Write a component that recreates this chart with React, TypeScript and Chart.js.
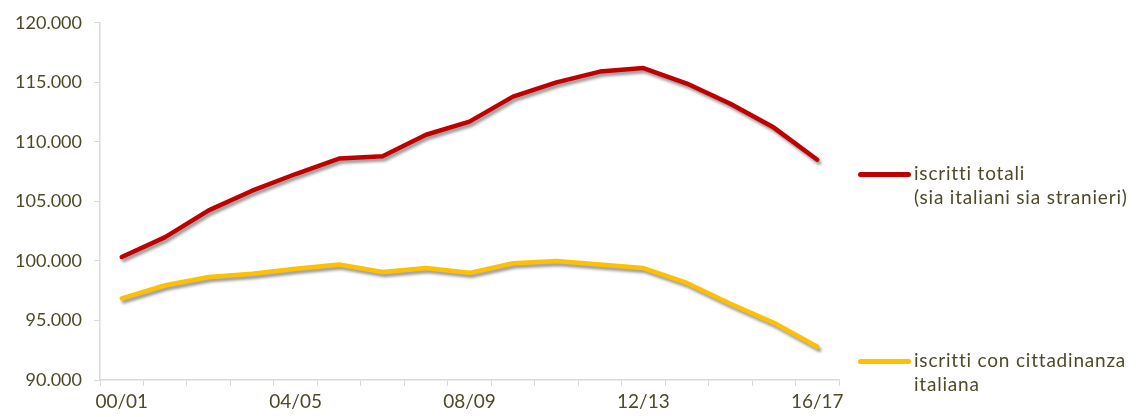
import React, { useEffect, useRef } from "react";
import { Chart, registerables } from "chart.js";

Chart.register(...registerables);

const categories = [
  "00/01", "01/02", "02/03", "03/04", "04/05", "05/06", "06/07", "07/08", "08/09",
  "09/10", "10/11", "11/12", "12/13", "13/14", "14/15", "15/16", "16/17",
];
const iscrittiTotali = [
  100330, 102000, 104250, 105900, 107300, 108600, 108800, 110600, 111700,
  113800, 115000, 115900, 116200, 114900, 113200, 111200, 108500,
];
const iscrittiItaliani = [
  96850, 97960, 98650, 98930, 99350, 99700, 99070, 99400, 99000,
  99800, 100000, 99700, 99400, 98150, 96400, 94800, 92800,
];
const shownLabels = ["00/01", "04/05", "08/09", "12/13", "16/17"];
const legendTotali = ["iscritti totali", "(sia italiani sia stranieri)"];
const legendItaliani = ["iscritti con cittadinanza", "italiana"];

const RED = "#C00000";
const YELLOW = "#FFC000";
const TEXT = "#4E4A29";
const AXIS = "#D9D9D9";
const FONT = "Lato, 'Open Sans', sans-serif";

const shadowPlugin = {
  id: "lineShadow",
  beforeDatasetDraw(chart: any) {
    const ctx = chart.ctx;
    ctx.save();
    ctx.shadowColor = "rgba(0,0,0,0.4)";
    ctx.shadowBlur = 3;
    ctx.shadowOffsetX = 2;
    ctx.shadowOffsetY = 3;
  },
  afterDatasetDraw(chart: any) {
    chart.ctx.restore();
  },
};

function fmt(v: number) {
  return String(v).replace(/\B(?=(\d{3})+(?!\d))/g, ".");
}

export default function App() {
  const ref = useRef<HTMLCanvasElement | null>(null);

  useEffect(() => {
    document.body.style.margin = "0";
    const chart = new Chart(ref.current as HTMLCanvasElement, {
      type: "line",
      data: {
        labels: categories,
        datasets: [
          {
            label: legendTotali.join(" "),
            data: iscrittiTotali,
            borderColor: RED,
            backgroundColor: RED,
            borderWidth: 4.5,
            pointRadius: 0,
            tension: 0,
            borderJoinStyle: "round",
            borderCapStyle: "round",
          },
          {
            label: legendItaliani.join(" "),
            data: iscrittiItaliani,
            borderColor: YELLOW,
            backgroundColor: YELLOW,
            borderWidth: 4.5,
            pointRadius: 0,
            tension: 0,
            borderJoinStyle: "round",
            borderCapStyle: "round",
          },
        ],
      },
      options: {
        animation: false,
        responsive: false,
        maintainAspectRatio: false,
        layout: { padding: { top: 22, right: 300, left: 0, bottom: 0 } },
        plugins: { legend: { display: false }, tooltip: { enabled: false } },
        scales: {
          x: {
            offset: true,
            grid: {
              offset: true,
              drawOnChartArea: false,
              drawTicks: true,
              tickLength: 6,
              color: AXIS,
            },
            border: { color: AXIS, width: 1.5 },
            ticks: {
              autoSkip: false,
              maxRotation: 0,
              color: TEXT,
              font: { family: FONT, size: 19 },
              padding: 4,
              callback: function (this: any, _v: any, i: number) {
                const l = categories[i];
                return shownLabels.includes(l) ? l : "";
              },
            },
            afterFit(scale: any) {
              scale.height = 37;
            },
          },
          y: {
            min: 90000,
            max: 120000,
            grid: {
              drawOnChartArea: false,
              drawTicks: true,
              tickLength: 6,
              color: AXIS,
            },
            border: { color: AXIS, width: 1.5 },
            ticks: {
              stepSize: 5000,
              color: TEXT,
              font: { family: FONT, size: 18 },
              padding: 12,
              callback: (v: any) => fmt(Number(v)),
            },
            afterFit(scale: any) {
              scale.width = 100;
            },
          },
        },
      },
      plugins: [shadowPlugin],
    });
    return () => chart.destroy();
  }, []);

  const legendItem = (color: string, lines: string[], top: number) => (
    <div style={{ position: "absolute", left: 858, top, display: "flex", alignItems: "flex-start" }}>
      <div
        style={{
          width: 53,
          height: 5,
          borderRadius: 3,
          background: color,
          marginTop: 11,
          marginRight: 3,
        }}
      />
      <div
        style={{
          fontFamily: FONT,
          fontSize: 19,
          letterSpacing: "0.8px",
          fontVariantLigatures: "none",
          color: TEXT,
          lineHeight: "24px",
          whiteSpace: "nowrap",
        }}
      >
        {lines.map((l) => (
          <div key={l}>{l}</div>
        ))}
      </div>
    </div>
  );

  return (
    <div style={{ position: "relative", width: 1139, height: 417 }}>
      <canvas ref={ref} width={1139} height={417} style={{ display: "block" }} />
      {legendItem(RED, legendTotali, 161)}
      {legendItem(YELLOW, legendItaliani, 348)}
    </div>
  );
}
